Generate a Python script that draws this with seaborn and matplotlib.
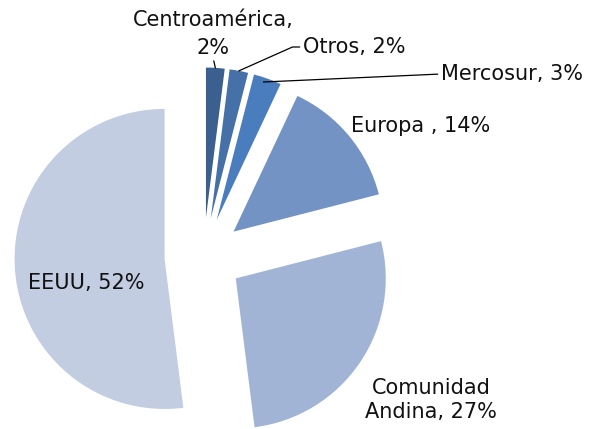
import numpy as np
import matplotlib
matplotlib.use("Agg")
import matplotlib.pyplot as plt
import seaborn as sns

# === Data ===
regions = ["Centroamérica", "Otros", "Mercosur", "Europa ", "Comunidad\nAndina", "EEUU"]
shares = [2, 2, 3, 14, 27, 52]
colors = ["#3B5F8E", "#4670A8", "#4A7DBE", "#7293C3", "#A2B4D5", "#C2CDE2"]

sns.set_theme(style="white")
plt.rcParams['font.family'] = ['DejaVu Sans']

W, H = 595, 429
fig = plt.figure(figsize=(W / 100, H / 100), dpi=100)
ax = fig.add_axes([0, 0, 1, 1])

# pie in pixel units, y axis pointing down
R = 150
wedges, _ = ax.pie(shares, colors=sns.color_palette(colors), startangle=-90, counterclock=True,
                   explode=[0.26 * R] * len(shares), radius=R, center=(203.5, 256.5),
                   wedgeprops=dict(linewidth=0))
ax.set_xlim(0, W)
ax.set_ylim(H, 0)
ax.set_aspect('auto')
ax.axis('off')

labels = [f"{r}, {s}%" for r, s in zip(regions, shares)]
labels[0] = f"{regions[0]},\n{shares[0]}%"
fs = 15
tc = "#111111"


def edge_pt(w, t=0.5, frac=1.0):
    # point on the outer arc of a wedge, t=0 at theta1 and t=1 at theta2
    a = np.deg2rad(w.theta1 + t * (w.theta2 - w.theta1))
    cx, cy = w.center
    return (cx + w.r * frac * np.cos(a), cy + w.r * frac * np.sin(a))


line = dict(arrowstyle='-', color='black', lw=0.9, shrinkA=0, shrinkB=0)

# Centroamérica, 2%
ax.annotate(labels[0], xy=edge_pt(wedges[0]), xytext=(213, 34), ha='center', va='center', color=tc,
            fontsize=fs, linespacing=1.45, arrowprops=dict(line, relpos=(0.5, 0)))
# Otros, 2%
ax.annotate(labels[1], xy=edge_pt(wedges[1]), xytext=(303, 47), ha='left', va='center', fontsize=fs, color=tc,
            arrowprops=dict(line, relpos=(0, 0.5), connectionstyle="angle,angleA=0,angleB=24,rad=0"))
# Mercosur, 3%
ax.annotate(labels[2], xy=edge_pt(wedges[2], 0.4, 0.97), xytext=(441, 74), ha='left', va='center', fontsize=fs,
            color=tc, arrowprops=dict(line, relpos=(0, 0.5)))
# Europa , 14%
ax.text(351, 126, labels[3], ha='left', va='center', fontsize=fs, color=tc)
# Comunidad Andina, 27%
ax.text(431, 400, labels[4], ha='center', va='center', fontsize=fs, linespacing=1.3, color=tc)
# EEUU, 52%
ax.text(28, 283, labels[5], ha='left', va='center', fontsize=fs, color=tc)

fig.savefig("out.png", dpi=100)
